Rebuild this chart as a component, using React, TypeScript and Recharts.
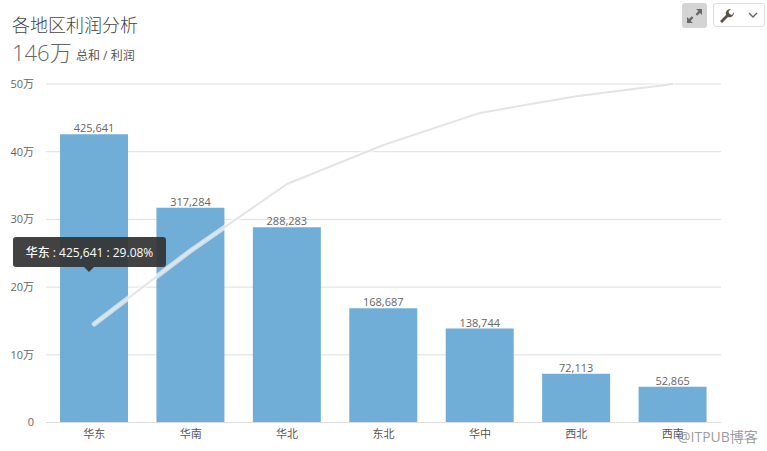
import { Bar, Line, ComposedChart, XAxis, YAxis, CartesianGrid, LabelList } from "recharts"

const regions = ["华东", "华南", "华北", "东北", "华中", "西北", "西南"]
const profit = [425641, 317284, 288283, 168687, 138744, 72113, 52865]
const cumulative = [145400, 253800, 352300, 409900, 457300, 481900, 500000]
const yTicks = [0, 100000, 200000, 300000, 400000, 500000]

const tableData = regions.map((name, i) => ({
  name,
  profit: profit[i],
  cumulative: cumulative[i],
}))

const FONT = "'Open Sans', 'Noto Sans CJK SC', sans-serif"

function yLabel(v: number) {
  return v === 0 ? "0" : `${v / 10000}万`
}

export default function App() {
  return (
    <div style={{ position: "absolute", left: 0, top: 0, width: 767, height: 451, background: "#fff", fontFamily: FONT, overflow: "hidden" }}>
      <div style={{ position: "absolute", left: 12, top: 11, fontSize: 18, fontWeight: 300, color: "#444", whiteSpace: "nowrap" }}>各地区利润分析</div>
      <div style={{ position: "absolute", left: 12, top: 35, fontSize: 22, fontWeight: 300, color: "#666", whiteSpace: "nowrap" }}>146万</div>
      <div style={{ position: "absolute", left: 76, top: 46, fontSize: 12, color: "#555", whiteSpace: "nowrap" }}>总和 / 利润</div>

      <div style={{ position: "absolute", left: 682, top: 3, width: 25, height: 25, background: "#d4d4d4", borderRadius: 3 }}>
        <svg width={25} height={25}>
          <path d="M14 6h6v6l-2-2-2.8 2.8-1.6-1.6L16.4 8z M11 20H5v-6l2 2 2.8-2.8 1.6 1.6L8.6 18z" fill="#666" />
        </svg>
      </div>
      <div style={{ position: "absolute", left: 713, top: 3, width: 52, height: 24, border: "1px solid #ddd", borderRadius: 3, boxSizing: "border-box" }}>
        <svg width={50} height={22}>
          <path d="M6 17l6-6c-1-3 1-6 5-6l-2.5 2.5 1 2.5 2.5 1L20 8c0 4-3 6-6 5l-6 6z" fill="#5a5148" />
          <path d="M35 9l4 4 4-4" fill="none" stroke="#666" strokeWidth={1.4} />
        </svg>
      </div>

      <div style={{ position: "absolute", left: 0, top: 0 }}>
        <ComposedChart width={767} height={451} data={tableData} margin={{ top: 84, right: 46, bottom: 0, left: 0 }}>
          <CartesianGrid vertical={false} stroke="#dedede" />
          <XAxis
            dataKey="name"
            tick={{ fill: "#555", fontSize: 11 }}
            axisLine={{ stroke: "#dedede" }}
            tickLine={false}
            tickMargin={2}
            height={28.5}
          />
          <YAxis
            width={46}
            domain={[0, 500000]}
            ticks={yTicks}
            tickFormatter={yLabel}
            tick={{ fill: "#666", fontSize: 11 }}
            axisLine={false}
            tickLine={false}
            tickMargin={6}
          />
          <Bar dataKey="profit" fill="#71aed7" barSize={68} isAnimationActive={false}>
            <LabelList dataKey="profit" position="top" offset={2} formatter={(v: number) => v.toLocaleString("en-US")} style={{ fill: "#666", fontSize: 11 }} />
          </Bar>
          <Line dataKey="cumulative" stroke="#ffffff" strokeOpacity={0.6} strokeWidth={5} strokeLinecap="round" dot={false} isAnimationActive={false} />
          <Line dataKey="cumulative" stroke="#e4e4e4" strokeWidth={2} strokeLinecap="round" dot={false} isAnimationActive={false} />
        </ComposedChart>
      </div>

      <div style={{ position: "absolute", left: 13, top: 237, width: 153, height: 30, background: "rgba(50,50,50,0.92)", borderRadius: 3, color: "#fff", fontSize: 12, fontWeight: 500, lineHeight: "31px", textAlign: "center", whiteSpace: "nowrap" }}>
        华东 : 425,641 : 29.08%
      </div>
      <div style={{ position: "absolute", left: 84, top: 267, width: 0, height: 0, borderLeft: "5px solid transparent", borderRight: "5px solid transparent", borderTop: "5px solid rgba(50,50,50,0.92)" }} />

      <div style={{ position: "absolute", left: 678, top: 426, fontSize: 14, color: "rgba(130,130,130,0.8)", whiteSpace: "nowrap" }}>@ITPUB博客</div>
    </div>
  )
}
